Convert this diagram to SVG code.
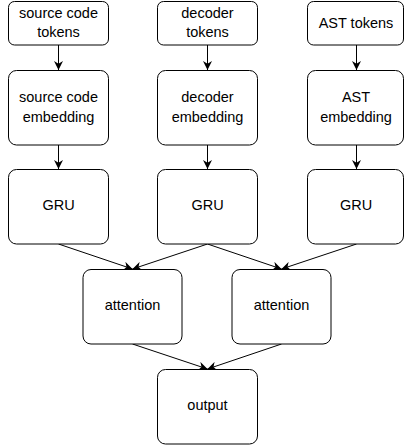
<svg xmlns="http://www.w3.org/2000/svg" width="404" height="446" viewBox="0 0 404 446">
<defs>
<marker id="arr" viewBox="0 0 10 10" refX="10" refY="5" markerWidth="9" markerHeight="9" markerUnits="userSpaceOnUse" orient="auto">
<path d="M0,0 L10,5 L0,10 L3,5 Z" fill="#000"/>
</marker>
<style>
.box{fill:#fff;stroke:#000;stroke-width:1}
.t{font-family:"Liberation Sans",Arial,sans-serif;font-size:14.5px;fill:#000;text-anchor:middle}
.e{fill:none;stroke:#000;stroke-width:1;marker-end:url(#arr)}
</style>
</defs>
<rect width="404" height="446" fill="#fff"/>
<g id="connectors">
<path class="e" d="M58.5,45 L58.5,70"/>
<path class="e" d="M207.5,45 L207.5,70"/>
<path class="e" d="M356.5,45 L356.5,70"/>
<path class="e" d="M58.5,145 L58.5,169"/>
<path class="e" d="M207.5,145 L207.5,169"/>
<path class="e" d="M356.5,145 L356.5,169"/>
<path class="e" d="M58.5,244 L132.5,269"/>
<path class="e" d="M207.5,244 L132.5,269"/>
<path class="e" d="M207.5,244 L281.5,269"/>
<path class="e" d="M356.5,244 L281.5,269"/>
<path class="e" d="M132.5,344 L207.5,369"/>
<path class="e" d="M281.5,344 L207.5,369"/>
</g>
<g id="src_tokens"><rect class="box" x="8.5" y="1.5" width="100" height="43.5" rx="6"/><text class="t" x="58.5" y="18">source code</text><text class="t" x="58.5" y="37">tokens</text></g>
<g id="dec_tokens"><rect class="box" x="157.5" y="1.5" width="100" height="43.5" rx="6"/><text class="t" x="207.5" y="18">decoder</text><text class="t" x="207.5" y="37">tokens</text></g>
<g id="ast_tokens"><rect class="box" x="307.5" y="1.5" width="96" height="43.5" rx="6"/><text class="t" x="356" y="28">AST tokens</text></g>
<g id="src_emb"><rect class="box" x="8.5" y="70.5" width="100" height="74.5" rx="8"/><text class="t" x="58.5" y="102">source code</text><text class="t" x="58.5" y="122">embedding</text></g>
<g id="dec_emb"><rect class="box" x="157.5" y="70.5" width="100" height="74.5" rx="8"/><text class="t" x="207.5" y="102">decoder</text><text class="t" x="207.5" y="122">embedding</text></g>
<g id="ast_emb"><rect class="box" x="307.5" y="70.5" width="96" height="74.5" rx="8"/><text class="t" x="356" y="102">AST</text><text class="t" x="356" y="122">embedding</text></g>
<g id="gru1"><rect class="box" x="8.5" y="169.5" width="100" height="74.5" rx="8"/><text class="t" x="58.5" y="210">GRU</text></g>
<g id="gru2"><rect class="box" x="157.5" y="169.5" width="100" height="74.5" rx="8"/><text class="t" x="207.5" y="210">GRU</text></g>
<g id="gru3"><rect class="box" x="307.5" y="169.5" width="96" height="74.5" rx="8"/><text class="t" x="356" y="210">GRU</text></g>
<g id="att1"><rect class="box" x="83" y="269.5" width="99" height="74.5" rx="8"/><text class="t" x="132.5" y="310">attention</text></g>
<g id="att2"><rect class="box" x="232" y="269.5" width="99" height="74.5" rx="8"/><text class="t" x="281.5" y="310">attention</text></g>
<g id="output"><rect class="box" x="157.5" y="369.5" width="100" height="74.5" rx="8"/><text class="t" x="207.5" y="410">output</text></g>
</svg>
